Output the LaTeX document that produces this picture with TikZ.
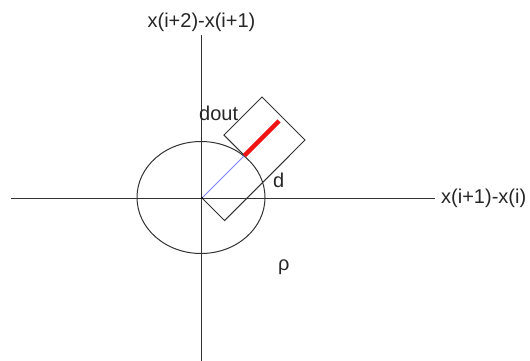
\documentclass[tikz,border=0pt]{standalone}
\usepackage{fontspec}
\setmainfont{Liberation Sans}
\begin{document}
\begin{tikzpicture}[x=1pt,y=-1pt,
  lbl/.style={inner sep=0pt,text=black!85,font=\fontsize{20}{23}\selectfont},
  ln/.style={draw=black!80,line width=1.1pt}]
\useasboundingbox (0,0) rectangle (530,361);
% axes
\coordinate (hl) at (11,198.5);
\coordinate (hr) at (435,198.5);
\coordinate (vt) at (201.5,35);
\coordinate (vb) at (201.5,361);
\draw[ln] (hl) -- (hr);
\draw[ln] (vt) -- (vb);
% ellipse
\coordinate (c) at (201,197.5);
\draw[ln,line width=1pt] (c) ellipse [x radius=64, y radius=56];
% box
\coordinate (O) at (202,198);
\coordinate (B) at (224.6,220.6);
\coordinate (C) at (305,140);
\coordinate (D) at (262,97);
\coordinate (E) at (223.9,135.1);
\coordinate (F) at (244.4,155.6);
\coordinate (R) at (279,121);
\draw[ln,line width=1pt] (O) -- (B) -- (C) -- (D) -- (E) -- (F);
\draw[draw={rgb,255:red,130;green,130;blue,255},line width=0.8pt] (O) -- (F);
\draw[draw={rgb,255:red,240;green,20;blue,20},line width=4.3pt] (F) -- (R);
\fill[black] (O) circle (1.2);
% labels
\node[lbl,anchor=base] (ty) at (201.5,28) {x(i+2)-x(i+1)};
\node[lbl,anchor=base west] (tx) at (441,203) {x(i+1)-x(i)};
\node[lbl,anchor=base west] (tdout) at (199,120) {dout};
\node[lbl,anchor=base west] (td) at (273,187) {d};
\node[lbl,anchor=base west] (trho) at (278,270) {ρ};
\end{tikzpicture}
\end{document}
